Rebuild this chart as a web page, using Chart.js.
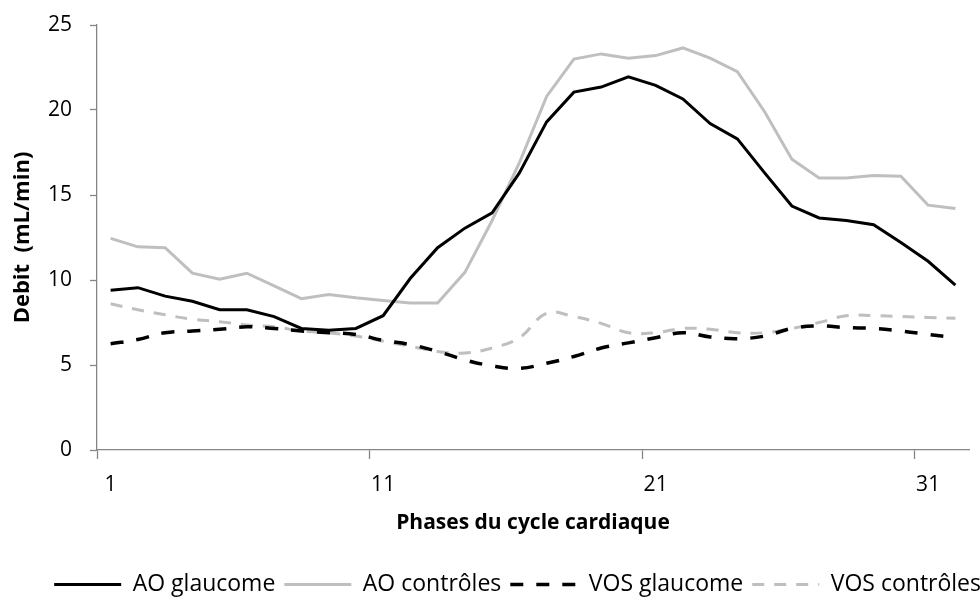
<!DOCTYPE html>
<html>
<head>
<meta charset="utf-8">
<script src="https://cdn.jsdelivr.net/npm/chart.js@4.4.1/dist/chart.umd.min.js"></script>
<style>
  html, body { margin: 0; padding: 0; background: #fff; }
  #wrap { width: 980px; height: 601px; }
</style>
</head>
<body>
<div id="wrap"><canvas id="chart1"></canvas></div>
<script>
// phases of the cardiac cycle
var phases = [1, 2, 3, 4, 5, 6, 7, 8, 9, 10, 11, 12, 13, 14, 15, 16,
  17, 18, 19, 20, 21, 22, 23, 24, 25, 26, 27, 28, 29, 30, 31, 32];

// flow (mL/min)
var aoGlaucome = [9.4, 9.55, 9.05, 8.75, 8.25, 8.25, 7.85, 7.15, 7.05, 7.15, 7.9, 10.1,
  11.9, 13.05, 13.95, 16.3, 19.3, 21.05, 21.35, 21.95, 21.45, 20.65, 19.2, 18.3,
  16.3, 14.35, 13.65, 13.5, 13.25, 12.2, 11.1, 9.7];
var aoControles = [12.45, 11.95, 11.9, 10.4, 10.05, 10.4, 9.65, 8.9, 9.15, 8.95, 8.8, 8.65,
  8.65, 10.45, 13.5, 16.9, 20.8, 23.0, 23.3, 23.05, 23.2, 23.65, 23.05, 22.25,
  19.9, 17.1, 16.0, 16.0, 16.15, 16.1, 14.4, 14.2];
var vosGlaucome = [6.25, 6.5, 6.9, 7.0, 7.1, 7.25, 7.15, 7.0, 6.9, 6.8, 6.45, 6.2,
  5.8, 5.3, 4.95, 4.8, 5.1, 5.5, 6.0, 6.3, 6.6, 6.9, 6.65, 6.55,
  6.7, 7.15, 7.3, 7.2, 7.15, 7.0, 6.8, 6.6];
var vosControles = [8.6, 8.25, 7.95, 7.7, 7.55, 7.35, 7.25, 7.0, 6.9, 6.7, 6.4, 6.1,
  5.8, 5.7, 6.0, 6.6, 8.05, 7.85, 7.45, 6.9, 6.9, 7.15, 7.1, 6.9,
  6.9, 7.15, 7.5, 7.9, 7.9, 7.85, 7.8, 7.75];

var yTicks = [0, 5, 10, 15, 20, 25];

var FONT = "'Open Sans', 'DejaVu Sans', sans-serif";
var axisGrey = "#868686";
var lineGrey = "#bfbfbf";

var ctx = document.getElementById("chart1").getContext("2d");
var myChart = new Chart(ctx, {
  type: "line",
  data: {
    labels: phases,
    datasets: [
      {
        label: "AO glaucome",
        data: aoGlaucome,
        borderColor: "#000000",
        backgroundColor: "#000000",
        borderWidth: 3,
        tension: 0,
        pointRadius: 0,
        fill: false,
      },
      {
        label: "AO contrôles",
        data: aoControles,
        borderColor: lineGrey,
        backgroundColor: lineGrey,
        borderWidth: 3,
        tension: 0,
        pointRadius: 0,
        fill: false,
      },
      {
        label: "VOS glaucome",
        data: vosGlaucome,
        borderColor: "#000000",
        backgroundColor: "#000000",
        borderWidth: 3.5,
        borderDash: [13, 13],
        tension: 0.4,
        pointRadius: 0,
        fill: false,
      },
      {
        label: "VOS contrôles",
        data: vosControles,
        borderColor: lineGrey,
        backgroundColor: lineGrey,
        borderWidth: 3,
        borderDash: [12, 10],
        tension: 0.4,
        pointRadius: 0,
        fill: false,
      },
    ],
  },
  options: {
    responsive: true,
    maintainAspectRatio: false,
    animation: false,
    layout: {
      // legend runs to the right edge, the plot keeps a margin via "gap"
      padding: { top: 25, right: -10, left: 0, bottom: -5 },
    },
    plugins: {
      tooltip: { enabled: false },
      legend: {
        position: "bottom",
        align: "end",
        display: true,
        labels: {
          usePointStyle: true,
          pointStyle: "line",
          pointStyleWidth: 67,
          boxHeight: 3,
          padding: 9,
          color: "#000000",
          font: { family: FONT, size: 23 },
          // keep the dash pattern of each series in its legend sample
          generateLabels: function (chart) {
            var items = Chart.defaults.plugins.legend.labels.generateLabels(chart);
            items.forEach(function (item) {
              var ds = chart.data.datasets[item.datasetIndex];
              item.lineDash = ds.borderDash || [];
              item.lineWidth = ds.borderWidth;
            });
            return items;
          },
        },
      },
    },
    scales: {
      x: {
        type: "category",
        offset: true,
        afterFit: function (scale) {
          scale.height = 114;
        },
        grid: {
          offset: true,
          drawOnChartArea: false,
          tickLength: 9,
          tickWidth: 1.3,
          tickColor: function (c) {
            return c.index % 10 === 0 ? axisGrey : "rgba(0,0,0,0)";
          },
        },
        border: { color: axisGrey, width: 1.3 },
        ticks: {
          autoSkip: false,
          maxRotation: 0,
          padding: 13,
          color: "#000000",
          font: { family: FONT, size: 21 },
          callback: function (value, index) {
            return index % 10 === 0 ? String(phases[index]) : "";
          },
        },
        title: {
          display: true,
          text: "Phases du cycle cardiaque",
          color: "#000000",
          font: { family: FONT, size: 21, weight: "bold" },
          padding: { top: 10, bottom: 28 },
        },
      },
      y: {
        min: 0,
        max: 25,
        afterFit: function (scale) {
          scale.width = 97;
          // only half a label of room is needed above the top tick
          scale.paddingTop = 12;
          scale.paddingBottom = 12;
        },
        afterBuildTicks: function (scale) {
          scale.ticks = yTicks.map(function (v) { return { value: v }; });
        },
        grid: {
          drawOnChartArea: false,
          tickLength: 7,
          tickWidth: 1.3,
          color: axisGrey,
        },
        border: { color: axisGrey, width: 1.3 },
        ticks: {
          padding: 18,
          color: "#000000",
          font: { family: FONT, size: 21 },
        },
        title: {
          display: true,
          text: "Debit  (mL/min)",
          color: "#000000",
          font: { family: FONT, size: 22, weight: "bold" },
          padding: { top: 10, bottom: 15 },
        },
      },
      // empty right-hand box: keeps the plot clear of the canvas edge
      gap: {
        type: "linear",
        position: "right",
        display: true,
        afterFit: function (scale) {
          scale.width = 21;
          scale.paddingTop = 0;
          scale.paddingBottom = 0;
        },
        grid: { display: false },
        border: { display: false },
        ticks: { display: false },
      },
    },
  },
});
</script>
</body>
</html>
